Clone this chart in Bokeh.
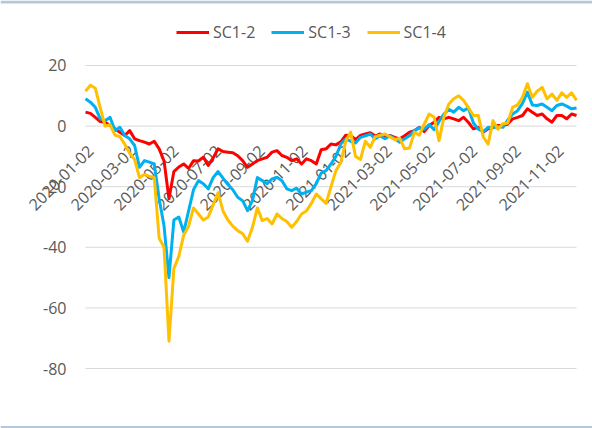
import math
import pandas as pd
from bokeh.plotting import figure
from bokeh.models import Range1d, Legend, LegendItem, BoxAnnotation
from bokeh.core.properties import value
from bokeh.embed import file_html
from bokeh.resources import INLINE

# weekly sampling dates (x categories)
dates = pd.date_range("2020-01-02", "2021-12-02", freq="7D")

sc1_2 = [4.6, 4.2, 2.9, 1.5, 1.3, 0.2, -0.9, -2.0, -3.1, -1.5,
         -4.2, -4.8, -5.3, -5.9, -5.0, -7.5, -11.5, -24.0, -15.0, -13.5,
         -12.5, -14.0, -11.4, -11.5, -10.3, -13.0, -10.5, -7.5, -8.4, -8.6,
         -8.8, -9.8, -11.4, -13.6, -12.5, -11.4, -10.8, -10.3, -8.6, -8.1,
         -9.7, -10.3, -11.4, -10.8, -12.5, -10.8, -11.4, -12.5, -7.8, -7.5,
         -5.9, -6.2, -5.2, -3.0, -3.1, -4.5, -3.1, -2.6, -2.2, -3.3,
         -2.6, -3.7, -3.1, -3.7, -4.2, -3.2, -2.0, -1.5, -0.4, -1.8,
         0.2, 1.3, 2.9, 2.4, 2.9, 2.4, 1.8, 2.9, 1.2, -0.9,
         -0.4, -2.0, -0.9, -0.4, 0.2, 0.2, 0.7, 2.4, 2.9, 3.5,
         5.7, 4.6, 3.5, 4.0, 2.4, 1.3, 3.5, 3.5, 2.4, 4.0, 3.5]

sc1_3 = [9.0, 7.9, 6.2, 2.4, 1.8, 2.9, -1.5, -0.4, -3.1, -4.2,
         -6.4, -13.6, -11.4, -11.9, -12.5, -24.0, -33.0, -50.0, -31.0, -30.0,
         -35.0, -28.0, -21.0, -18.0, -19.0, -20.7, -17.0, -15.0, -17.2, -19.3,
         -21.0, -23.5, -24.6, -27.9, -24.6, -17.0, -18.0, -19.0, -17.4, -16.9,
         -18.0, -20.7, -21.3, -20.5, -22.4, -21.8, -21.3, -19.0, -15.5, -14.7,
         -12.5, -10.0, -5.9, -4.3, -5.0, -5.6, -3.7, -3.2, -2.6, -4.2,
         -3.2, -4.2, -3.2, -4.2, -5.3, -4.2, -3.2, -1.5, -0.5, -1.0,
         0.5, -1.2, 1.5, 4.0, 5.5, 4.6, 6.2, 5.1, 6.0, 1.0,
         -1.0, -1.8, -0.4, -0.6, -0.1, -0.4, 2.0, 4.0, 5.1, 7.5,
         11.2, 7.0, 6.8, 7.3, 6.2, 5.1, 6.8, 7.3, 6.6, 5.7, 6.0]

sc1_4 = [11.5, 13.5, 12.5, 6.0, 0.0, 0.5, -3.0, -3.5, -6.0, -9.0,
         -11.0, -17.0, -16.0, -16.5, -17.0, -37.0, -40.0, -71.0, -47.0, -43.0,
         -36.0, -33.0, -27.0, -29.0, -31.0, -30.0, -26.0, -22.0, -28.0, -31.0,
         -33.0, -34.5, -35.5, -38.0, -33.4, -27.0, -31.2, -30.5, -32.3, -29.0,
         -30.5, -31.5, -33.4, -31.5, -29.0, -28.0, -25.5, -22.4, -24.0, -25.5,
         -20.0, -14.7, -12.0, -5.0, -2.0, -10.0, -11.0, -5.0, -7.0, -3.5,
         -3.0, -2.6, -3.5, -4.5, -4.0, -7.5, -7.2, -2.0, -3.0, 0.7,
         4.0, 2.9, -4.8, 3.0, 7.3, 9.0, 10.0, 8.5, 6.0, 3.5,
         3.5, -3.5, -6.0, 1.8, -1.0, 0.8, 1.0, 6.2, 7.0, 9.5,
         14.0, 9.5, 11.5, 12.8, 9.0, 10.6, 8.5, 11.0, 9.5, 11.0, 8.5]

x_tick_labels = ["2020-01-02", "2020-03-02", "2020-05-02", "2020-07-02",
                 "2020-09-02", "2020-11-02", "2021-01-02", "2021-03-02",
                 "2021-05-02", "2021-07-02", "2021-09-02", "2021-11-02"]
y_ticks = [-80, -60, -40, -20, 0, 20]
y_tick_labels = ["-80", "-60", "-40", "-20", "0", "20"]

series_names = ["SC1-2", "SC1-3", "SC1-4"]
series_colors = ["#FF0000", "#00B0F0", "#FFC000"]

FONT = "Open Sans"
GRAY = "#595959"
GRID = "#D9D9D9"

# The frame covers the whole canvas (so nothing is clipped); the plot area of the
# chart is the part between the first and last date and between -80 and 20.
x_start = dates[0] - pd.Timedelta(days=121.18)
x_end = dates[-1] + pd.Timedelta(days=22.81)
p = figure(width=592, height=428, x_axis_type="datetime",
           x_axis_location=None, y_axis_location=None,
           x_range=Range1d(x_start, x_end), y_range=Range1d(-99.8, 41.45),
           output_backend="svg", toolbar_location=None,
           min_border_left=0, min_border_right=0, min_border_top=0, min_border_bottom=0)
p.outline_line_color = None
p.xgrid.grid_line_color = None
p.ygrid.grid_line_color = None

# horizontal gridlines across the plot area
p.segment(x0=[dates[0]] * len(y_ticks), x1=[dates[-1]] * len(y_ticks),
          y0=y_ticks, y1=y_ticks, line_color=GRID, line_width=1)

# value-axis labels
p.text(x=[dates[0]] * len(y_ticks), y=y_ticks, text=y_tick_labels,
       text_align="right", text_baseline="middle", x_offset=-19,
       text_font_size="16px", text_color=GRAY, text_font=value(FONT))

# category labels drawn at the y=0 crossing
p.text(x=[pd.Timestamp(s) for s in x_tick_labels], y=[0] * len(x_tick_labels),
       text=x_tick_labels, angle=math.pi / 4, text_align="right", text_baseline="middle",
       x_offset=5, y_offset=22, text_font_size="16px", text_color=GRAY,
       text_font=value(FONT))

renderers = []
for vals, col in zip([sc1_2, sc1_3, sc1_4], series_colors):
    r = p.line(dates, vals, line_color=col, line_width=3, line_join="round")
    renderers.append(r)

legend = Legend(items=[LegendItem(label=n, renderers=[r]) for n, r in zip(series_names, renderers)],
                orientation="horizontal", location=(176, 385),
                border_line_color=None, background_fill_alpha=0,
                label_text_font_size="16px", label_text_color=GRAY, label_text_font=FONT,
                glyph_width=33, glyph_height=20, label_height=20, label_standoff=4,
                spacing=16, padding=0, margin=0)
p.add_layout(legend)

# thin frame bands at the top and bottom edge of the chart area
for t, b in [(0, 3), (425.5, 428)]:
    p.add_layout(BoxAnnotation(top=t, bottom=b, top_units="canvas", bottom_units="canvas",
                               fill_color="#B4C7DB", fill_alpha=1.0, line_color=None))

open("out.html", "w").write(file_html(p, INLINE))
